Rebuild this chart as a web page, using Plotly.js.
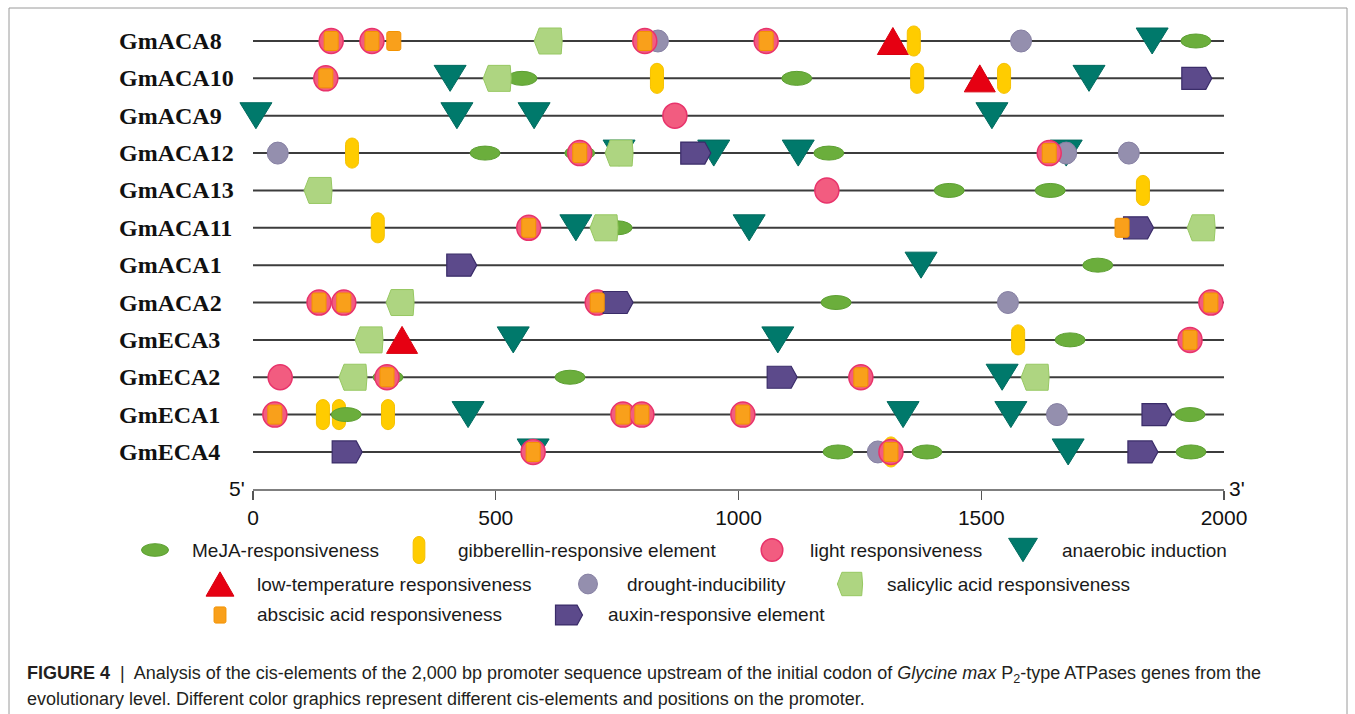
<!DOCTYPE html>
<html><head><meta charset="utf-8">
<script src="https://cdn.plot.ly/plotly-3.0.1.min.js"></script>
<style>html,body{margin:0;padding:0;background:#fff}#chart{width:1355px;height:714px}</style>
</head><body><div id="chart"></div><script>
// ---------------- DATA ----------------
const genes = ["GmACA8","GmACA10","GmACA9","GmACA12","GmACA13","GmACA11","GmACA1","GmACA2","GmECA3","GmECA2","GmECA1","GmECA4"];
const xTicks = [0, 500, 1000, 1500, 2000];
const promoterLength = 2000;

// [gene, position (bp)]
const anaerobic = [["GmACA8",1852],["GmACA10",406],["GmACA10",1722],["GmACA9",6],["GmACA9",420],["GmACA9",579],["GmACA9",1522],["GmACA12",754],["GmACA12",949],["GmACA12",1123],["GmACA12",1675],["GmACA11",665],["GmACA11",1022],["GmACA1",1376],["GmECA3",536],["GmECA3",1081],["GmECA2",1543],["GmECA1",443],["GmECA1",1339],["GmECA1",1561],["GmECA4",577],["GmECA4",1679]];
const lowTemp = [["GmACA8",1318],["GmACA10",1497],["GmECA3",307]];
const gibberellin = [["GmACA8",1361],["GmACA10",832],["GmACA10",1368],["GmACA10",1547],["GmACA12",204],["GmACA13",1833],["GmACA11",257],["GmECA3",1576],["GmECA1",144],["GmECA1",177],["GmECA1",278],["GmECA4",1314]];
const meja = [["GmACA8",1942],["GmACA10",554],["GmACA10",1120],["GmACA12",478],["GmACA12",673],["GmACA12",1186],["GmACA13",1434],["GmACA13",1642],["GmACA11",750],["GmACA1",1740],["GmACA2",1201],["GmECA3",1683],["GmECA2",278],["GmECA2",653],["GmECA1",192],["GmECA1",1930],["GmECA4",1205],["GmECA4",1388],["GmECA4",1932]];
const salicylic = [["GmACA8",608],["GmACA10",503],["GmACA12",754],["GmACA13",134],["GmACA11",723],["GmACA11",1953],["GmACA2",303],["GmECA3",239],["GmECA2",206],["GmECA2",1611]];
const drought = [["GmACA8",834],["GmACA8",1582],["GmACA12",51],["GmACA12",1675],["GmACA12",1804],["GmACA2",1555],["GmECA1",1656],["GmECA4",1287]];
const light = [["GmACA8",161],["GmACA8",245],["GmACA8",807],["GmACA8",1057],["GmACA10",150],["GmACA9",869],["GmACA12",673],["GmACA12",1640],["GmACA13",1182],["GmACA11",568],["GmACA2",136],["GmACA2",187],["GmACA2",709],["GmACA2",1973],["GmECA3",1930],["GmECA2",56],["GmECA2",276],["GmECA2",1252],["GmECA1",45],["GmECA1",762],["GmECA1",801],["GmECA1",1009],["GmECA4",577],["GmECA4",1314]];
const abscisic = [["GmACA8",161],["GmACA8",245],["GmACA8",290],["GmACA8",807],["GmACA8",1057],["GmACA10",150],["GmACA12",673],["GmACA12",1640],["GmACA11",568],["GmACA11",1790],["GmACA2",136],["GmACA2",187],["GmACA2",709],["GmACA2",1973],["GmECA3",1930],["GmECA2",276],["GmECA2",1252],["GmECA1",45],["GmECA1",762],["GmECA1",801],["GmECA1",1009],["GmECA4",577],["GmECA4",1314]];
const auxin = [["GmACA10",1944],["GmACA12",912],["GmACA11",1824],["GmACA1",430],["GmACA2",752],["GmECA2",1090],["GmECA1",1862],["GmECA4",194],["GmECA4",1833]];

const legendLabels = {
  meja:"MeJA-responsiveness", gibberellin:"gibberellin-responsive element", light:"light responsiveness", anaerobic:"anaerobic induction",
  lowTemp:"low-temperature responsiveness", drought:"drought-inducibility", salicylic:"salicylic acid responsiveness",
  abscisic:"abscisic acid responsiveness", auxin:"auxin-responsive element"
};

// ---------------- LAYOUT / STYLE ----------------
const W=1355, H=714, ML=200, MR=105, MT=12, MB=224;
const PW=W-ML-MR, PH=H-MT-MB;
const X0PX=253, XENDPX=1224;
const kx=(XENDPX-X0PX)/promoterLength;
const xRange=[-(X0PX-ML)/kx, (ML+PW-X0PX)/kx];
const ROW0=41, ROWSTEP=37.36;
const yRange=[(H-MB-ROW0)/ROWSTEP, (MT-ROW0)/ROWSTEP];
const pxX = px => (px-ML)/PW;
const pxY = py => (H-MB-py)/PH;

const SY=-1; // screen-down offsets -> plotly pixel offsets
const f = v => (+v).toFixed(2);
function poly(pts){ return 'M'+pts.map(p=>f(p[0])+','+f(SY*p[1])).join(' L')+' Z'; }
function rrect(w,h,r){
  const x=w/2,y=h/2,k=r*0.45;
  const pts=(a,b)=>f(a)+','+f(SY*b);
  return 'M'+pts(-x+r,-y)+' L'+pts(x-r,-y)+' C'+pts(x-k,-y)+' '+pts(x,-y+k)+' '+pts(x,-y+r)+
    ' L'+pts(x,y-r)+' C'+pts(x,y-k)+' '+pts(x-k,y)+' '+pts(x-r,y)+
    ' L'+pts(-x+r,y)+' C'+pts(-x+k,y)+' '+pts(-x,y-k)+' '+pts(-x,y-r)+
    ' L'+pts(-x,-y+r)+' C'+pts(-x,-y+k)+' '+pts(-x+k,-y)+' '+pts(-x+r,-y)+' Z';
}
const STYLE = {
  anaerobic:{kind:'triDown',w:32,h:26,fill:'#00796B',line:'#006A5E',lw:1},
  lowTemp:{kind:'triUp',w:31,h:27,fill:'#E60012',line:'#D8000F',lw:1},
  gibberellin:{kind:'capsule',w:13,h:30,fill:'#FFCC00',line:'#F5C000',lw:1},
  meja:{kind:'ellipse',w:30,h:14,fill:'#6BAE3C',line:'#5C9F31',lw:1},
  salicylic:{kind:'sal',w:28,h:26,fill:'#AED581',line:'#97C862',lw:1},
  drought:{kind:'ellipse',w:21,h:22,fill:'#948FAE',line:'#8680A3',lw:1},
  light:{kind:'ellipse',w:24,h:25,fill:'#F25C80',line:'#E8336B',lw:1.5},
  abscisic:{kind:'rrect',w:14,h:19,fill:'#F9A01B',line:'#F39200',lw:1},
  auxin:{kind:'auxin',w:30,h:22,fill:'#5C4A8B',line:'#3A2C69',lw:1.2}
};
function pathFor(st, s){
  const w=st.w*s, h=st.h*s;
  switch(st.kind){
    case 'triDown': return poly([[-w/2,-h/2],[w/2,-h/2],[0,h/2]]);
    case 'triUp': return poly([[0,-h/2],[w/2,h/2],[-w/2,h/2]]);
    case 'capsule': return rrect(w,h,w/2);
    case 'rrect': return rrect(w,h,2*s);
    case 'sal': return poly([[-w/2,0],[-w/2+5*s,-h/2],[w/2-1*s,-h/2],[w/2,0],[w/2-1*s,h/2],[-w/2+5*s,h/2]]);
    case 'auxin': return poly([[-w/2,-h/2],[w/2-6*s,-h/2],[w/2,0],[w/2-6*s,h/2],[-w/2,h/2]]);
  }
}
function makeShape(type, xref, yref, xa, ya, s){
  const st=STYLE[type];
  const base={xref:xref,yref:yref,xsizemode:'pixel',ysizemode:'pixel',xanchor:xa,yanchor:ya,
    fillcolor:st.fill,line:{color:st.line,width:st.lw},layer:'above'};
  if(st.kind==='ellipse'){
    const w=st.w*s,h=st.h*s;
    return Object.assign(base,{type:'circle',x0:-w/2,x1:w/2,y0:-h/2,y1:h/2});
  }
  return Object.assign(base,{type:'path',path:pathFor(st,s)});
}

const series = {anaerobic, lowTemp, gibberellin, meja, salicylic, drought, light, abscisic, auxin};
const drawOrder = ['anaerobic','lowTemp','gibberellin','meja','salicylic','drought','light','auxin','abscisic'];
const shapes=[];
drawOrder.forEach(t=>{
  series[t].forEach(([g,pos])=>{
    shapes.push(makeShape(t,'x','y',pos,genes.indexOf(g),1));
  });
});

// axis line 0..2000
shapes.unshift({type:'line',xref:'x',yref:'paper',x0:0,x1:promoterLength,y0:0,y1:0,line:{color:'#555',width:1.5},layer:'above'});
// frame
shapes.unshift({type:'rect',xref:'paper',yref:'paper',x0:pxX(9),x1:pxX(1347),y0:pxY(740),y1:pxY(8),line:{color:'#9a9a9a',width:1},fillcolor:'rgba(0,0,0,0)',layer:'below'});

// legend
const legendPos = [
  ['meja',155,550,190],['gibberellin',419,550,456],['light',772,550,808],['anaerobic',1023,550,1060],
  ['lowTemp',220,584,255],['drought',588,584,625],['salicylic',850,584,885],
  ['abscisic',220,615,255],['auxin',569,615,606]
];
const annotations=[];
legendPos.forEach(([t,cx,cy,tx])=>{
  shapes.push(makeShape(t,'paper','paper',pxX(cx),pxY(cy),t==='abscisic'?0.85:0.9));
  annotations.push({xref:'paper',yref:'paper',x:pxX(tx),y:pxY(cy),xanchor:'left',yanchor:'middle',showarrow:false,
    text:legendLabels[t],font:{family:'Liberation Sans, Arial, sans-serif',size:19,color:'#1a1a1a'}});
});

// gene labels
genes.forEach((g,i)=>{
  annotations.push({xref:'paper',yref:'y',x:pxX(117),y:i,xanchor:'left',yanchor:'middle',showarrow:false,
    text:'<b>'+g+'</b>',font:{family:'Liberation Serif, Times New Roman, serif',size:24,color:'#111'}});
});
// 5' / 3'
annotations.push({xref:'paper',yref:'paper',x:pxX(237),y:pxY(488),xanchor:'center',yanchor:'middle',showarrow:false,
  text:"5'",font:{family:'Liberation Sans, Arial, sans-serif',size:21,color:'#111'}});
annotations.push({xref:'paper',yref:'paper',x:pxX(1237),y:pxY(488),xanchor:'center',yanchor:'middle',showarrow:false,
  text:"3'",font:{family:'Liberation Sans, Arial, sans-serif',size:21,color:'#111'}});
// caption
annotations.push({xref:'paper',yref:'paper',x:pxX(25),y:pxY(674),xanchor:'left',yanchor:'middle',showarrow:false,align:'left',
  text:"<b>FIGURE 4</b>  |  Analysis of the cis-elements of the 2,000 bp promoter sequence upstream of the initial codon of <i>Glycine max</i> P<sub>2</sub>-type ATPases genes from the",
  font:{family:'Liberation Sans, Arial, sans-serif',size:18,color:'#231f20'}});
annotations.push({xref:'paper',yref:'paper',x:pxX(25),y:pxY(699),xanchor:'left',yanchor:'middle',showarrow:false,align:'left',
  text:"evolutionary level. Different color graphics represent different cis-elements and positions on the promoter.",
  font:{family:'Liberation Sans, Arial, sans-serif',size:18,color:'#231f20'}});

// gene lines
const lx=[], ly=[];
genes.forEach((g,i)=>{ lx.push(0,promoterLength,null); ly.push(i,i,null); });
const traces=[{type:'scatter',mode:'lines',x:lx,y:ly,line:{color:'#3c3c3c',width:2},hoverinfo:'skip',showlegend:false}];

const layout={
  width:W,height:H,margin:{l:ML,r:MR,t:MT,b:MB},paper_bgcolor:'#fff',plot_bgcolor:'rgba(0,0,0,0)',
  showlegend:false,
  xaxis:{range:xRange,showgrid:false,zeroline:false,showline:false,tickmode:'array',tickvals:xTicks,ticktext:xTicks.map(String),
    ticks:'outside',ticklen:9,tickwidth:1.4,tickcolor:'#555',
    tickfont:{family:'Liberation Sans, Arial, sans-serif',size:21,color:'#111'}},
  yaxis:{range:yRange,showgrid:false,zeroline:false,showline:false,showticklabels:false,ticks:''},
  shapes:shapes,annotations:annotations
};
Plotly.newPlot('chart',traces,layout,{staticPlot:true,displayModeBar:false});
</script></body></html>
